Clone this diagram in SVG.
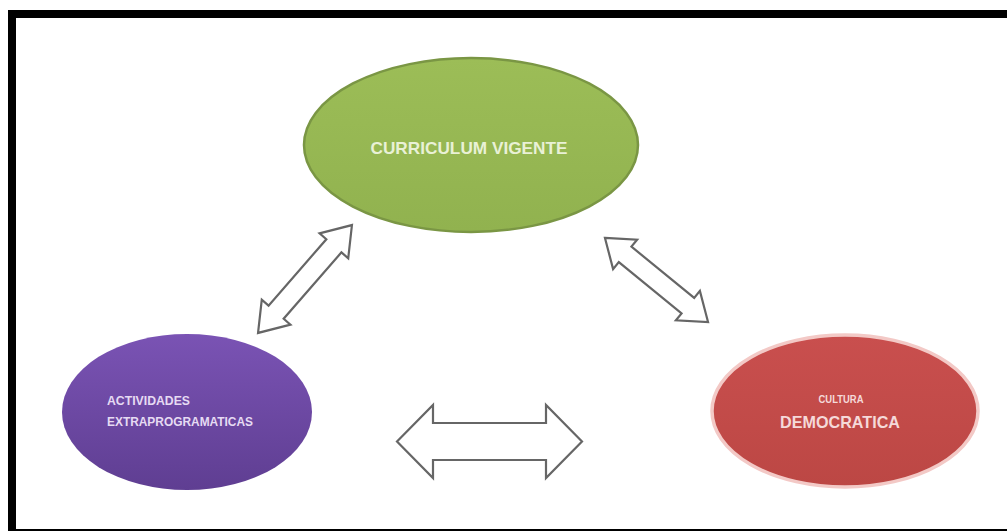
<svg xmlns="http://www.w3.org/2000/svg" width="1007" height="531" viewBox="0 0 1007 531">
  <style>
    .arrow { fill: #ffffff; stroke: #666666; stroke-width: 2.2; stroke-linejoin: miter; }
    .lbl { font-family: "Liberation Sans", "DejaVu Sans", sans-serif; font-weight: bold; }
  </style>
  <defs>
    <linearGradient id="gPurple" x1="0" y1="0" x2="0" y2="1">
      <stop offset="0" stop-color="#7a53b4"/>
      <stop offset="1" stop-color="#5f3e92"/>
    </linearGradient>
    <linearGradient id="gGreen" x1="0" y1="0" x2="0" y2="1">
      <stop offset="0" stop-color="#9cbd57"/>
      <stop offset="1" stop-color="#91b24f"/>
    </linearGradient>
    <linearGradient id="gRed" x1="0" y1="0" x2="0" y2="1">
      <stop offset="0" stop-color="#c94f4e"/>
      <stop offset="1" stop-color="#bc4744"/>
    </linearGradient>
  </defs>
  <rect x="0" y="0" width="1007" height="531" fill="#ffffff"/>
  <g id="frame" fill="#000000">
    <rect x="8" y="10" width="999" height="8"/>
    <rect x="8" y="10" width="8" height="521"/>
    <rect x="8" y="529" width="999" height="2"/>
  </g>
  <g id="node-curriculum">
    <ellipse cx="471" cy="145" rx="167" ry="87" fill="url(#gGreen)" stroke="#7a9644" stroke-width="2.5"/>
    <text class="lbl" x="469" y="154" text-anchor="middle" font-size="17" fill="#e9f1d6" textLength="197" lengthAdjust="spacingAndGlyphs">CURRICULUM VIGENTE</text>
  </g>
  <g id="node-actividades">
    <ellipse cx="187" cy="412" rx="125" ry="78" fill="url(#gPurple)"/>
    <text class="lbl" x="107" y="405" font-size="13" fill="#e6dbf3" textLength="83" lengthAdjust="spacingAndGlyphs">ACTIVIDADES</text>
    <text class="lbl" x="107" y="426" font-size="13" fill="#e6dbf3" textLength="146" lengthAdjust="spacingAndGlyphs">EXTRAPROGRAMATICAS</text>
  </g>
  <g id="node-cultura">
    <ellipse cx="845" cy="411" rx="133" ry="76" fill="url(#gRed)" stroke="#f3c9c6" stroke-width="3.5"/>
    <text class="lbl" x="841" y="403" text-anchor="middle" font-size="10" fill="#f5d9d9" textLength="45" lengthAdjust="spacingAndGlyphs">CULTURA</text>
    <text class="lbl" x="840" y="428" text-anchor="middle" font-size="17" fill="#f5d9d9" textLength="120" lengthAdjust="spacingAndGlyphs">DEMOCRATICA</text>
  </g>
  <g id="connectors">
    <path class="arrow" transform="translate(305 279) rotate(-48.96)" d="M -71.5 0 L -44 -19 L -44 -10 L 44 -10 L 44 -19 L 71.5 0 L 44 19 L 44 10 L -44 10 L -44 19 Z"/>
    <path class="arrow" transform="translate(656.5 280) rotate(39.2)" d="M -66.5 0 L -40.5 -19 L -40.5 -10 L 40.5 -10 L 40.5 -19 L 66.5 0 L 40.5 19 L 40.5 10 L -40.5 10 L -40.5 19 Z"/>
    <path class="arrow" d="M 397 441.5 L 433 405 L 433 423 L 546 423 L 546 405 L 582 441.5 L 546 478 L 546 460 L 433 460 L 433 478 Z"/>
  </g>
</svg>
